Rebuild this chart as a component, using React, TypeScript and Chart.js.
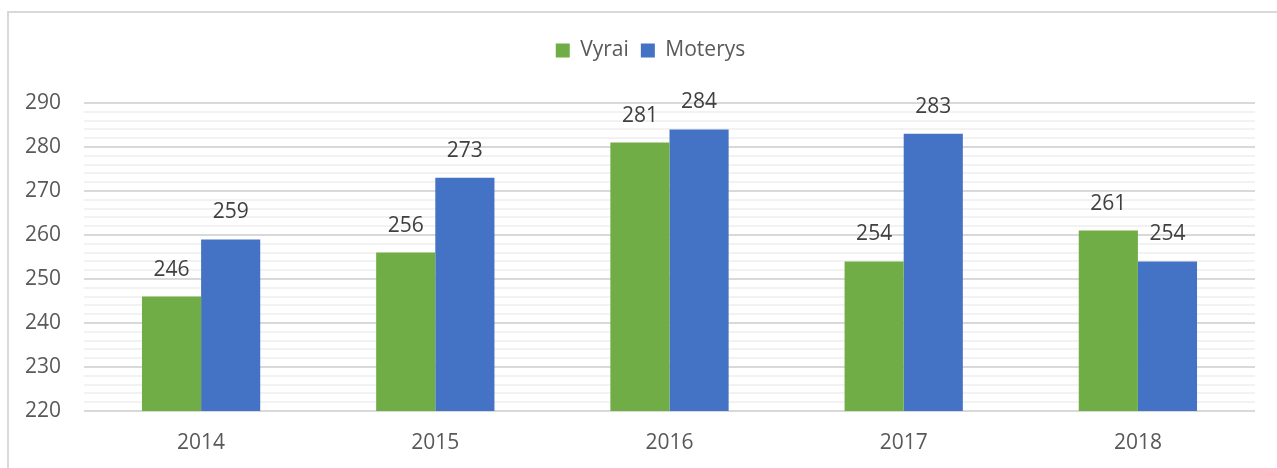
import React, { useEffect, useRef } from "react";
import { Chart, registerables } from "chart.js";

Chart.register(...registerables);

const categories = ["2014", "2015", "2016", "2017", "2018"];
const vyrai = [246, 256, 281, 254, 261];
const moterys = [259, 273, 284, 283, 254];
const seriesNames = ["Vyrai", "Moterys"];
const colors = ["#70ad47", "#4472c4"];
const yMin = 220;
const yMax = 290;

const FONT = "'Open Sans', 'Liberation Sans', sans-serif";
const TEXT = "#595959";

const dataLabels = {
  id: "dataLabels",
  afterDatasetsDraw(chart: any) {
    const ctx = chart.ctx;
    ctx.save();
    ctx.font = `21px ${FONT}`;
    ctx.fillStyle = "#404040";
    ctx.textAlign = "center";
    ctx.textBaseline = "alphabetic";
    chart.data.datasets.forEach((ds: any, i: number) => {
      const meta = chart.getDatasetMeta(i);
      meta.data.forEach((bar: any, j: number) => {
        ctx.fillText(String(ds.data[j]), bar.x, bar.y - 21);
      });
    });
    ctx.restore();
  },
};

const legendTweak = {
  id: "legendTweak",
  beforeInit(chart: any) {
    const legend = chart.legend;
    if (!legend) return;
    const orig = legend.fit;
    legend.fit = function () {
      orig.call(this);
      this.height = 75;
    };
  },
  afterLayout(chart: any) {
    const legend = chart.legend;
    if (!legend) return;
    legend.left += 23;
    legend.right += 23;
  },
};

export default function App() {
  const ref = useRef<HTMLCanvasElement>(null);
  useEffect(() => {
    document.body.style.margin = "0";
    const chart = new Chart(ref.current!, {
      type: "bar",
      data: {
        labels: categories,
        datasets: [
          { label: seriesNames[0], data: vyrai, backgroundColor: colors[0], categoryPercentage: 0.505, barPercentage: 1 },
          { label: seriesNames[1], data: moterys, backgroundColor: colors[1], categoryPercentage: 0.505, barPercentage: 1 },
        ],
      },
      options: {
        responsive: false,
        animation: false,
        layout: { padding: { top: 28, right: 22, left: 0, bottom: 0 } },
        plugins: {
          legend: {
            position: "top",
            labels: {
              font: { family: FONT, size: 21 },
              color: TEXT,
              boxWidth: 14,
              boxHeight: 14,
              padding: 12,
            },
          },
          tooltip: { enabled: false },
        },
        scales: {
          x: {
            grid: { display: false },
            border: { display: false },
            ticks: { font: { family: FONT, size: 21 }, color: TEXT, padding: 11 },
            afterFit(scale: any) {
              scale.height = 57;
            },
          },
          y: {
            min: yMin,
            max: yMax,
            border: { display: false },
            grid: {
              drawTicks: false,
              lineWidth: 2,
              color: (c: any) => (c.tick && c.tick.value % 10 === 0 ? "#d9d9d9" : "#f2f2f2"),
            },
            ticks: {
              stepSize: 2,
              autoSkip: false,
              padding: 23,
              font: { family: FONT, size: 21 },
              color: TEXT,
              callback: (v: any) => (Number(v) % 10 === 0 ? String(v) : ""),
            },
            afterFit(scale: any) {
              scale.width = 84;
            },
          },
        },
      },
      plugins: [dataLabels, legendTweak],
    });
    return () => chart.destroy();
  }, []);
  return (
    <div style={{ position: "relative", width: 1277, height: 468, background: "#fff", overflow: "hidden" }}>
      <div
        style={{
          position: "absolute",
          left: 7,
          top: 11,
          width: 1300,
          height: 500,
          borderLeft: "2px solid #d9d9d9",
          borderTop: "2px solid #d9d9d9",
          boxSizing: "border-box",
        }}
      />
      <canvas ref={ref} width={1277} height={468} style={{ position: "absolute", left: 0, top: 0 }} />
    </div>
  );
}
